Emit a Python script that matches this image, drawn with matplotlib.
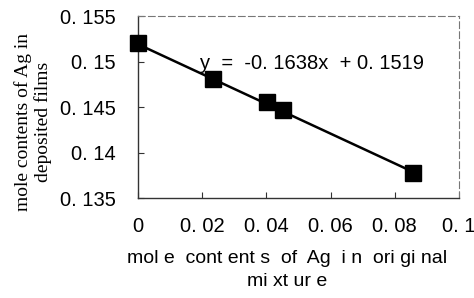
import matplotlib
matplotlib.use("Agg")
import matplotlib.pyplot as plt
import numpy as np

x_vals = [0.0, 0.0234, 0.0402, 0.0452, 0.0857]
y_vals = [0.1520, 0.1481, 0.1455, 0.1447, 0.1378]
slope = -0.1638
intercept = 0.1519
x_ticks = [0, 0.02, 0.04, 0.06, 0.08, 0.1]
x_ticklabels = ["0", "0. 02", "0. 04", "0. 06", "0. 08", "0. 1"]
y_ticks = [0.135, 0.14, 0.145, 0.15, 0.155]
y_ticklabels = ["0. 135", "0. 14", "0. 145", "0. 15", "0. 155"]

fig = plt.figure(figsize=(4.74, 2.98), dpi=100)
ax = fig.add_axes([138/474, 1-198/298, (459-138)/474, (198-16)/298])

xl = np.array([x_vals[0], x_vals[-1]])
ax.plot(xl, slope*xl + intercept, color="black", lw=1.8, zorder=2)
ax.plot(x_vals, y_vals, linestyle="none", marker="s", markersize=11,
        color="black", zorder=3, clip_on=False)

ax.set_xlim(0, 0.1)
ax.set_ylim(0.135, 0.155)
ax.set_xticks(x_ticks)
ax.set_xticklabels(x_ticklabels)
ax.set_yticks(y_ticks)
ax.set_yticklabels(y_ticklabels)
ax.tick_params(direction="in", length=4, width=0.8, color="#333333",
               labelsize=14.5)
ax.tick_params(axis="y", pad=16)
ax.tick_params(axis="x", pad=14)
for lab in ax.get_xticklabels() + ax.get_yticklabels():
    lab.set_fontfamily("Liberation Sans")

for s in ["left", "bottom"]:
    ax.spines[s].set_color("#333333")
    ax.spines[s].set_linewidth(1.0)
for s in ["top", "right"]:
    ax.spines[s].set_color("#777777")
    ax.spines[s].set_linewidth(0.8)
    ax.spines[s].set_linestyle((0, (6, 3)))

ax.text(0.0542, 0.1498, "y  =  -0. 1638x  + 0. 1519", fontsize=14.5,
        family="Liberation Sans", ha="center", va="center")

ax.set_xlabel("mol e  cont ent s  of  Ag  i n  ori gi nal\nmi xt ur e",
              fontsize=14, family="Liberation Sans", linespacing=1.45)
ax.xaxis.set_label_coords((287-138)/321, (198-250)/182)
fig.text(33/474, 1-122/298, "mole contents of Ag in\ndeposited films",
         rotation=90, ha="center", va="center", fontsize=14,
         family="Liberation Serif", linespacing=1.15)

fig.savefig("out.png", dpi=100)
